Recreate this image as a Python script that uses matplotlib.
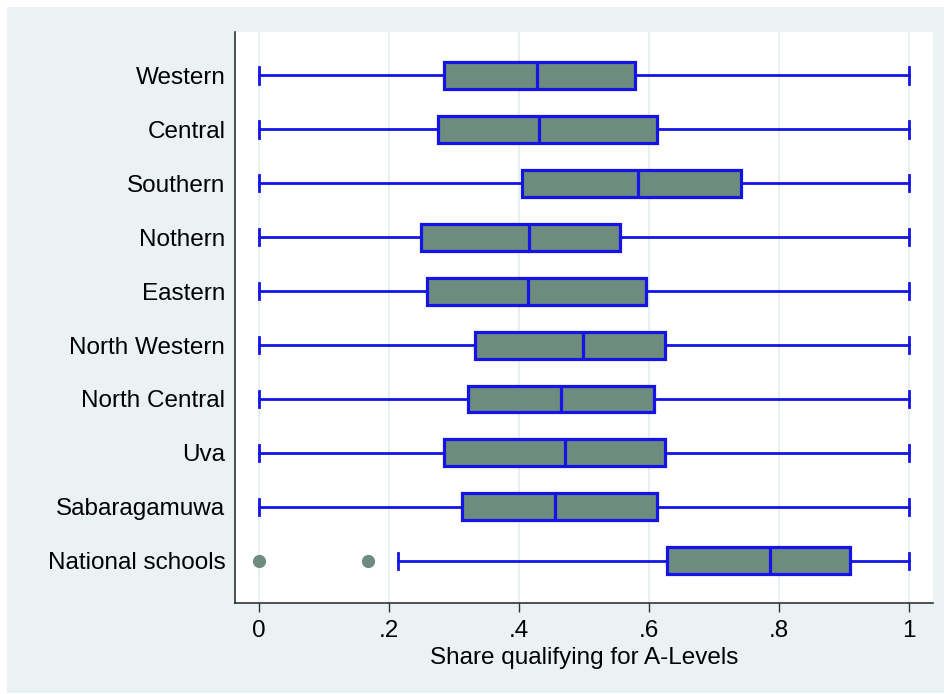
import matplotlib.pyplot as plt
from matplotlib.patches import Rectangle

plt.rcParams['font.family'] = ['Liberation Sans', 'DejaVu Sans']

regions = ['Western', 'Central', 'Southern', 'Nothern', 'Eastern', 'North Western',
           'North Central', 'Uva', 'Sabaragamuwa', 'National schools']
whislo = [0, 0, 0, 0, 0, 0, 0, 0, 0, 0.214]
q1 = [0.284, 0.276, 0.404, 0.249, 0.259, 0.332, 0.322, 0.285, 0.312, 0.628]
med = [0.428, 0.431, 0.583, 0.416, 0.414, 0.499, 0.464, 0.471, 0.455, 0.786]
q3 = [0.578, 0.613, 0.741, 0.555, 0.595, 0.624, 0.607, 0.624, 0.613, 0.909]
whishi = [1, 1, 1, 1, 1, 1, 1, 1, 1, 1]
fliers = [[], [], [], [], [], [], [], [], [], [0, 0.167]]

xticks = [0, 0.2, 0.4, 0.6, 0.8, 1]
xticklabels = ['0', '.2', '.4', '.6', '.8', '1']

blue = '#1414E6'
fill = '#6E8B80'

fig = plt.figure(figsize=(9.44, 6.94), dpi=100)
fig.patch.set_facecolor('white')
fig.patches.append(Rectangle((7 / 944, 1 / 694), 1, 686 / 694, transform=fig.transFigure,
                             facecolor='#EAF2F3', edgecolor='none', zorder=-10))

ax = fig.add_axes([235 / 944, 91 / 694, 698 / 944, 571 / 694])
ax.set_facecolor('white')

stats = []
for i in range(len(regions)):
    stats.append(dict(whislo=whislo[i], q1=q1[i], med=med[i], q3=q3[i],
                      whishi=whishi[i], fliers=fliers[i], label=regions[i]))

ax.bxp(stats, positions=range(len(regions)), orientation='horizontal',
       widths=0.5, capwidths=0.31, patch_artist=True,
       boxprops=dict(facecolor=fill, edgecolor=blue, linewidth=2.3),
       medianprops=dict(color=blue, linewidth=2.3),
       whiskerprops=dict(color=blue, linewidth=2.0),
       capprops=dict(color=blue, linewidth=2.0),
       flierprops=dict(marker='o', markersize=9.5, markerfacecolor=fill,
                       markeredgecolor='none'))

ax.set_ylim(9.78, -0.80)
ax.set_xlim(-0.037, 1.037)
ax.set_xticks(xticks)
ax.set_xticklabels(xticklabels)
ax.set_xlabel('Share qualifying for A-Levels', fontsize=17.5, labelpad=3)

ax.grid(axis='x', color='#E4ECEE', linewidth=1.2)
ax.set_axisbelow(True)
ax.tick_params(axis='x', length=6.5, width=1, color='#333333', pad=6, labelsize=17.5)
ax.tick_params(axis='y', length=0, pad=7, labelsize=17.5)

for side in ['top', 'right']:
    ax.spines[side].set_visible(False)
for side in ['left', 'bottom']:
    ax.spines[side].set_color('#222222')
    ax.spines[side].set_linewidth(1.1)

fig.savefig('out.png', dpi=100, facecolor=fig.get_facecolor())
